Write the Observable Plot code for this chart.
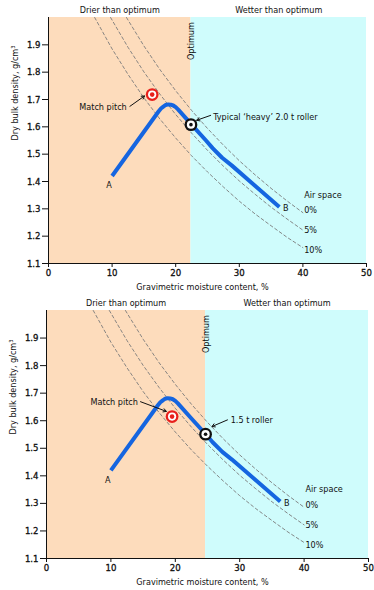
<!DOCTYPE html>
<html>
<head>
<meta charset="utf-8">
<script src="https://cdn.jsdelivr.net/npm/d3@7"></script>
<script src="https://cdn.jsdelivr.net/npm/@observablehq/plot@0.6"></script>
<style>
  body { margin: 0; background: #fff; }
  #charts svg { display: block; }
</style>
</head>
<body>
<div id="charts"></div>
<script>
// Axis ticks
const xTicks = [0, 10, 20, 30, 40, 50];
const yTicks = [1.1, 1.2, 1.3, 1.4, 1.5, 1.6, 1.7, 1.8, 1.9];

// Compaction curve, A to B (moisture %, dry bulk density g/cm3)
const curveMoisture = [10, 17.3, 17.68, 18.06, 18.44, 18.83, 19.21, 19.61, 20.0, 20.4, 22.5, 24.8, 25.8, 27.3, 28.8, 36.3];
const curveDensity  = [1.42, 1.656, 1.667, 1.674, 1.680, 1.682, 1.681, 1.678, 1.672, 1.663, 1.608, 1.549, 1.522, 1.487, 1.459, 1.307];

// Air-space lines (0 %, 5 %, 10 % air)
const air0Moisture  = [12.26, 15, 17.5, 20, 22.5, 25, 27.5, 30, 32.5, 35, 37.5, 40];
const air0Density   = [2.0, 1.896, 1.810, 1.732, 1.660, 1.594, 1.533, 1.476, 1.424, 1.375, 1.329, 1.286];
const air5Moisture  = [9.76, 12.5, 15, 17.5, 20, 22.5, 25, 27.5, 30, 32.5, 35, 37.5, 40];
const air5Density   = [2.0, 1.891, 1.801, 1.720, 1.645, 1.577, 1.514, 1.456, 1.402, 1.353, 1.306, 1.263, 1.222];
const air10Moisture = [7.26, 10, 12.5, 15, 17.5, 20, 22.5, 25, 27.5, 30, 32.5, 35, 37.5, 40];
const air10Density  = [2.0, 1.885, 1.792, 1.706, 1.629, 1.559, 1.494, 1.435, 1.380, 1.328, 1.281, 1.238, 1.196, 1.158];
const airLabels = ["0%", "5%", "10%"];
const airLabelDensity = [1.294, 1.221, 1.149];

// Panel values: optimum moisture, roller point, match pitch point
const optimumMoisture = [22.4, 24.7];
const rollerDensity   = [1.608, 1.551];
const rollerLabels    = ["Typical \u2018heavy\u2019 2.0 t roller", "1.5 t roller"];
const pitchMoisture   = [16.3, 19.5];
const pitchDensity    = [1.718, 1.615];

// Annotation arrows [x1, y1, x2, y2] and label anchors
const pitchArrows  = [[12.8, 1.675, 15.1, 1.713], [14.6, 1.669, 18.6, 1.634]];
const pitchLabelAt = [[12.3, 1.671], [14.2, 1.666]];
const rollerArrows = [[25.5, 1.642, 23.3, 1.624], [28.1, 1.603, 25.7, 1.579]];
const rollerLabelAt = [[25.9, 1.637], [28.6, 1.603]];

const FONT = "'DejaVu Sans Condensed', 'DejaVu Sans', sans-serif";
const DRY = "#fddcbc";
const WET = "#cffcfc";
const BLUE = "#1565e0";

const zip = (xs, ys) => xs.map((x, i) => ({x, y: ys[i]}));
const curve = zip(curveMoisture, curveDensity);
const airLines = [zip(air0Moisture, air0Density), zip(air5Moisture, air5Density), zip(air10Moisture, air10Density)];

function panel(i, opts) {
  const opt = optimumMoisture[i];
  const roller = {x: opt, y: rollerDensity[i]};
  const pitch = {x: pitchMoisture[i], y: pitchDensity[i]};
  const zones = [
    {x1: 0, x2: opt, fill: DRY, label: "Drier than optimum"},
    {x1: opt, x2: 50, fill: WET, label: "Wetter than optimum"}
  ];
  const arrows = [
    {x1: pitchArrows[i][0], y1: pitchArrows[i][1], x2: pitchArrows[i][2], y2: pitchArrows[i][3]},
    {x1: rollerArrows[i][0], y1: rollerArrows[i][1], x2: rollerArrows[i][2], y2: rollerArrows[i][3]}
  ];
  const svg = Plot.plot({
    width: 374,
    height: opts.height,
    marginTop: opts.marginTop,
    marginBottom: opts.marginBottom,
    marginLeft: opts.marginLeft,
    marginRight: opts.marginRight,
    style: {fontFamily: FONT, fontSize: "9px", color: "#111", background: "white"},
    x: {domain: [0, 50], ticks: xTicks, tickSize: 4, tickPadding: 2, label: null},
    y: {domain: [1.1, 2.0], ticks: yTicks, tickSize: 6, tickPadding: 2, label: null, tickFormat: d3.format(".1f")},
    marks: [
      Plot.rect(zones, {x1: "x1", x2: "x2", y1: 1.1, y2: 2.0, fill: "fill"}),
      Plot.text(zones, {x: d => (d.x1 + d.x2) / 2, y: 2.0, text: "label", dy: -7, fill: "#111"}),
      Plot.text(["Optimum"], {x: opt, y: 1.983, text: d => d, rotate: -90, textAnchor: "end", dx: 0.5, fill: "#111"}),
      ...airLines.map(line => Plot.line(line, {x: "x", y: "y", stroke: "#7a7a7a", strokeWidth: 0.9, strokeDasharray: "3,2.6"})),
      Plot.line(curve, {x: "x", y: "y", stroke: BLUE, strokeWidth: 4, strokeLinecap: "butt", strokeLinejoin: "round"}),
      Plot.text(["A"], {x: 9.5, y: 1.386, text: d => d, fill: "#111"}),
      Plot.text(["B"], {x: 37.3, y: 1.302, text: d => d, fill: "#111"}),
      Plot.text(["Air space"], {x: 40.2, y: 1.352, text: d => d, textAnchor: "start", fill: "#111"}),
      Plot.text(airLabels, {x: 40.2, y: (d, j) => airLabelDensity[j], text: d => d, textAnchor: "start", fill: "#111"}),
      Plot.arrow(arrows, {x1: "x1", y1: "y1", x2: "x2", y2: "y2", stroke: "#111", strokeWidth: 1, headLength: 5}),
      Plot.text(["Match pitch"], {x: pitchLabelAt[i][0], y: pitchLabelAt[i][1], text: d => d, textAnchor: "end", fill: "#111"}),
      Plot.text([rollerLabels[i]], {x: rollerLabelAt[i][0], y: rollerLabelAt[i][1], text: d => d, textAnchor: "start", fill: "#111"}),
      // match pitch target
      Plot.dot([pitch], {x: "x", y: "y", r: 6.4, fill: "#e8201c"}),
      Plot.dot([pitch], {x: "x", y: "y", r: 4.1, fill: "white"}),
      Plot.dot([pitch], {x: "x", y: "y", r: 2.3, fill: "#e8201c"}),
      // roller target
      Plot.dot([roller], {x: "x", y: "y", r: 6.4, fill: "#111"}),
      Plot.dot([roller], {x: "x", y: "y", r: 4.1, fill: "white"}),
      Plot.dot([roller], {x: "x", y: "y", r: 1.8, fill: "#111"}),
      // axis lines and titles
      Plot.ruleX([0], {stroke: "#111"}),
      Plot.ruleY([1.1], {stroke: "#111"}),
      Plot.text(["Gravimetric moisture content, %"], {frameAnchor: "bottom", text: d => d, dy: 26, dx: -5, fill: "#111"}),
      Plot.text(["Dry bulk density, g/cm\u00b3"], {frameAnchor: "left", text: d => d, rotate: -90, dx: -33, fill: "#111"})
    ]
  });
  // slightly heavier tick labels
  d3.select(svg).selectAll("g[aria-label$='tick label'] text")
    .attr("font-size", "9.5px")
    .attr("fill", "#111")
    .attr("stroke", "#111")
    .attr("stroke-width", 0.3);
  return svg;
}

const root = document.getElementById("charts");
root.append(panel(0, {height: 294, marginTop: 17, marginBottom: 31, marginLeft: 48, marginRight: 8}));
root.append(panel(1, {height: 296, marginTop: 16, marginBottom: 32, marginLeft: 46, marginRight: 6}));
</script>
</body>
</html>
